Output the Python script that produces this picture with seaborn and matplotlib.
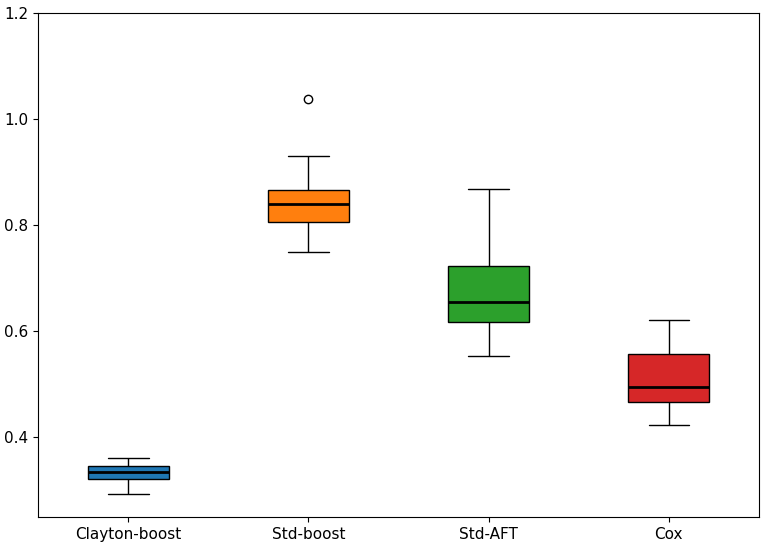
import numpy as np
import pandas as pd
import seaborn as sns
import matplotlib.pyplot as plt

models = ['Clayton-boost', 'Std-boost', 'Std-AFT', 'Cox']
colors = ['#1f77b4', '#ff7f0e', '#2ca02c', '#d62728']

clayton_boost = [0.293, 0.321, 0.335, 0.346, 0.362]
std_boost = [0.749, 0.780, 0.806, 0.825, 0.840, 0.855, 0.866, 0.930, 1.038]
std_aft = [0.553, 0.617, 0.655, 0.723, 0.868]
cox = [0.423, 0.466, 0.496, 0.557, 0.621]

df = pd.concat([
    pd.DataFrame({'model': m, 'score': v})
    for m, v in zip(models, [clayton_boost, std_boost, std_aft, cox])
])

sns.set_style('white')
fig, ax = plt.subplots(figsize=(7.65, 5.46), dpi=100)

sns.boxplot(data=df, x='model', y='score', hue='model', palette=colors,
            order=models, width=0.45, legend=False, ax=ax, saturation=1,
            linecolor='black', linewidth=1,
            medianprops={'color': 'black', 'linewidth': 2},
            flierprops={'marker': 'o', 'markerfacecolor': 'none',
                        'markeredgecolor': 'black', 'markersize': 6})

ax.set_ylim(0.25, 1.2)
ax.set_yticks([0.4, 0.6, 0.8, 1.0, 1.2])
ax.set_xlabel('')
ax.set_ylabel('')
ax.tick_params(labelsize=11, length=3.5, left=True, bottom=True,
               colors='black', labelcolor='black')
for s in ax.spines.values():
    s.set_color('black')
    s.set_linewidth(0.8)

plt.subplots_adjust(left=0.05, right=0.992, top=0.976, bottom=0.053)
plt.savefig('out.png')
